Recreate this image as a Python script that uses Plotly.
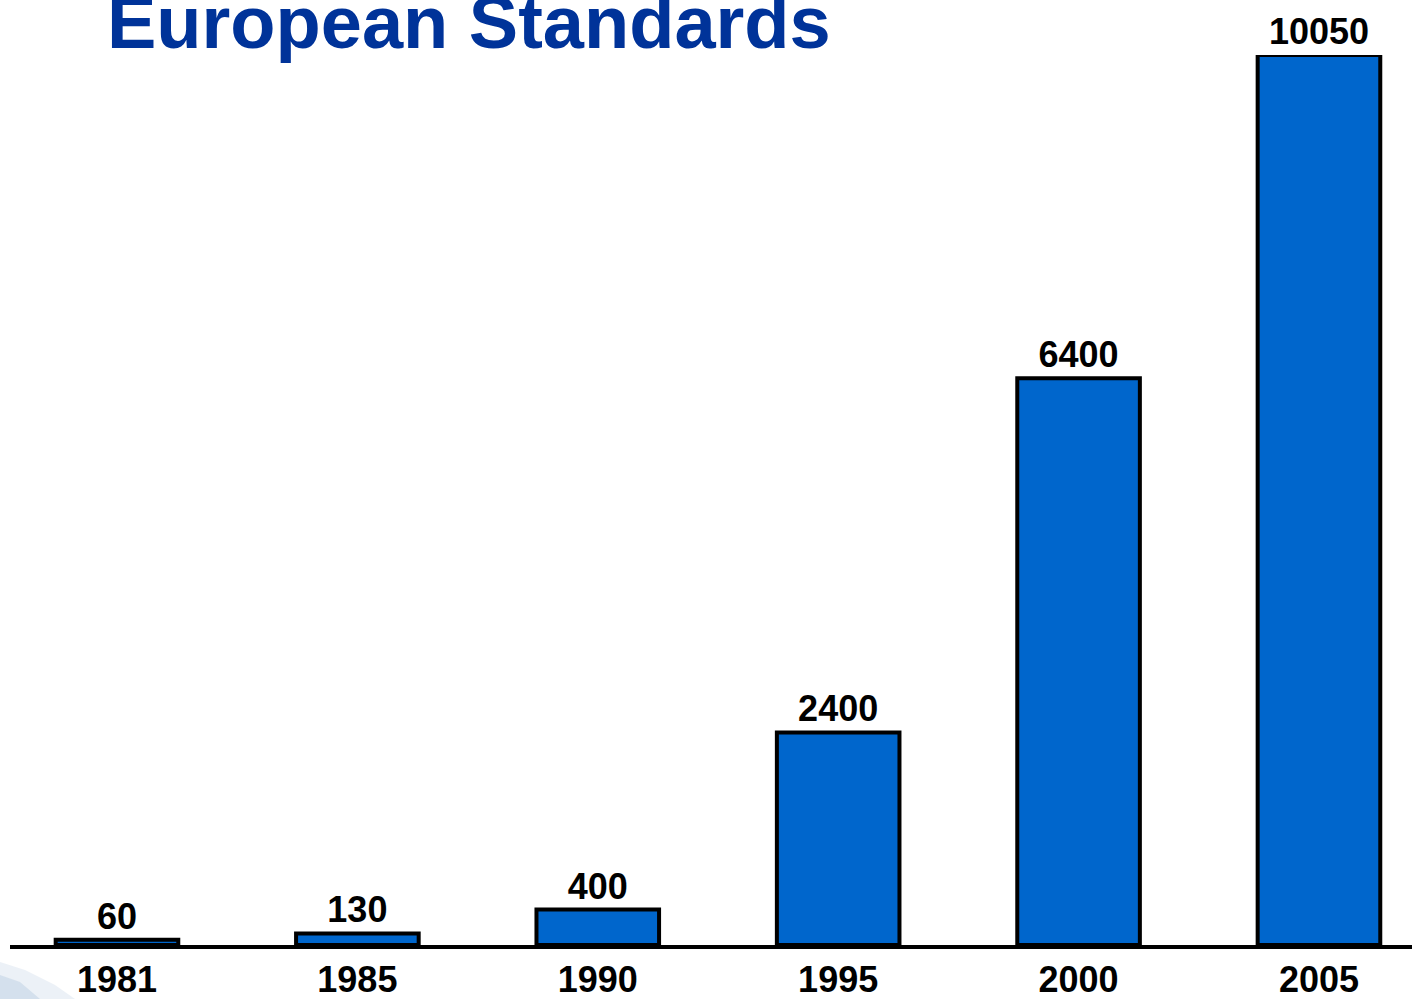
import plotly.graph_objects as go

years = ["1981", "1985", "1990", "1995", "2000", "2005"]
counts = [60, 130, 400, 2400, 6400, 10050]
title_text = "European Standards"

fig = go.Figure()
fig.add_trace(go.Bar(
    x=years, y=counts,
    text=[str(v) for v in counts],
    textposition="outside",
    textfont=dict(family="Liberation Sans, Arial", size=36, color="black", weight="bold"),
    marker=dict(color="#0066CC", line=dict(color="black", width=4)),
    cliponaxis=False,
    constraintext="none",
))

W, H = 1412, 999
L, R, T, B = 10, 0, 55, 54
pw, ph = W - L - R, H - T - B


def px(x):
    return (x - L) / pw


def py(y):
    return (H - B - y) / ph


# faint bluish decoration in the bottom-left corner
deco = [(0, 962), (25, 970), (55, 985), (75, 999), (0, 999)]
path = "M " + " L ".join(f"{px(x)},{py(y)}" for x, y in deco) + " Z"
deco2 = [(0, 975), (20, 982), (40, 999), (0, 999)]
path2 = "M " + " L ".join(f"{px(x)},{py(y)}" for x, y in deco2) + " Z"

fig.update_layout(
    width=W, height=H,
    margin=dict(l=L, r=R, t=T, b=B),
    paper_bgcolor="white", plot_bgcolor="white",
    bargap=0.49,
    showlegend=False,
    shapes=[
        dict(type="path", path=path, xref="paper", yref="paper",
             fillcolor="#dfe7f1", opacity=0.6, line=dict(width=0), layer="below"),
        dict(type="path", path=path2, xref="paper", yref="paper",
             fillcolor="#b9cbe0", opacity=0.45, line=dict(width=0), layer="below"),
    ],
    title=dict(
        text=title_text,
        font=dict(family="Liberation Sans, Arial", size=74, color="#003399", weight="bold"),
        x=107/1412, xanchor="left", xref="container",
        y=1 - 22/999, yanchor="middle", yref="container",
    ),
    xaxis=dict(
        type="category",
        range=[-0.445, 5.387],
        showline=True, linecolor="black", linewidth=4,
        ticks="", ticklabelstandoff=0,
        tickfont=dict(family="Liberation Sans, Arial", size=36, color="black", weight="bold"),
        showgrid=False, zeroline=False,
        automargin=False,
    ),
    yaxis=dict(
        range=[0, 10050],
        visible=False, showgrid=False, zeroline=False,
        automargin=False,
    ),
)

fig.write_html("out.html")
